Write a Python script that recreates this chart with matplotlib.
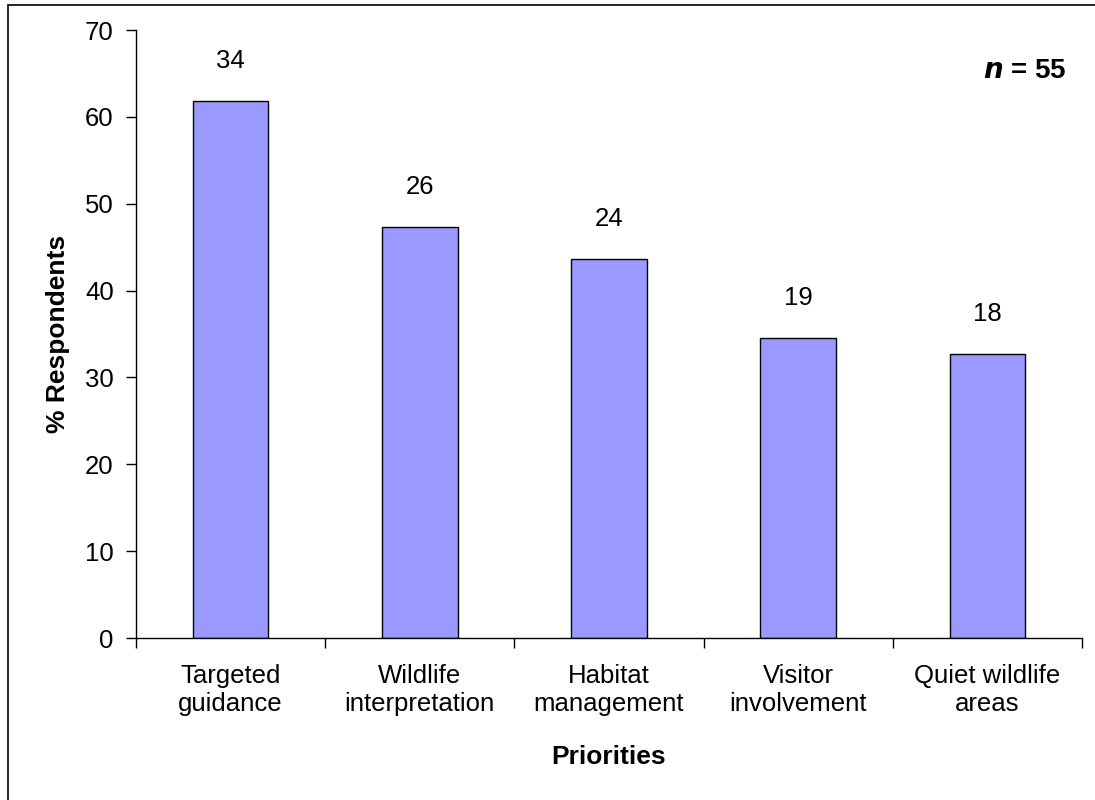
import matplotlib
matplotlib.use("Agg")
import matplotlib.pyplot as plt
from matplotlib.patches import Rectangle

categories = ["Targeted\nguidance", "Wildlife\ninterpretation", "Habitat\nmanagement",
              "Visitor\ninvolvement", "Quiet wildlife\nareas"]
percent = [61.8, 47.3, 43.6, 34.5, 32.7]
counts = [34, 26, 24, 19, 18]
yticks = [0, 10, 20, 30, 40, 50, 60, 70]

plt.rcParams['font.family'] = ['Liberation Sans', 'DejaVu Sans']

fig = plt.figure(figsize=(10.95, 8.0), dpi=100)
ax = fig.add_axes([136/1095, 1-638/800, (1082-136)/1095, (638-30)/800])

x = list(range(len(categories)))
ax.bar(x, percent, width=0.4, color="#9999FF", edgecolor="black", linewidth=1.0, zorder=2)
for xi, p, c in zip(x, percent, counts):
    ax.annotate(str(c), (xi, p), xytext=(0, 20.5), textcoords="offset points",
                ha="center", va="bottom", fontsize=18.5)

ax.set_xlim(-0.5, len(categories) - 0.5)
ax.set_ylim(0, 70)
ax.set_yticks(yticks)
ax.set_yticklabels([str(v) for v in yticks], fontsize=18.5)
ax.set_xticks([i - 0.5 for i in range(len(categories) + 1)])
ax.set_xticklabels([])
ax.set_xticks(x, minor=True)
ax.set_xticklabels(categories, minor=True, fontsize=18.5)
ax.tick_params(axis="x", which="major", direction="out", length=7, width=1)
ax.tick_params(axis="x", which="minor", length=0, pad=19)
ax.tick_params(axis="y", direction="out", length=7, width=1, pad=9)
for s in ["top", "right"]:
    ax.spines[s].set_visible(False)
for s in ["left", "bottom"]:
    ax.spines[s].set_linewidth(1.0)

ax.set_ylabel("% Respondents", fontsize=19, fontweight="bold", labelpad=11)
ax.set_xlabel("Priorities", fontsize=19, fontweight="bold", labelpad=21)

ax.text(0.984, 0.933, r"$\bfit{n}$ = 55", transform=ax.transAxes, ha="right", va="center",
        fontsize=20, fontweight="bold")

fig.patches.append(Rectangle((8/1095, -0.05), 1.2, 1 - 5/800 + 0.05, transform=fig.transFigure,
                             fill=False, edgecolor="black", linewidth=1.2))

fig.savefig("out.png", dpi=100)
